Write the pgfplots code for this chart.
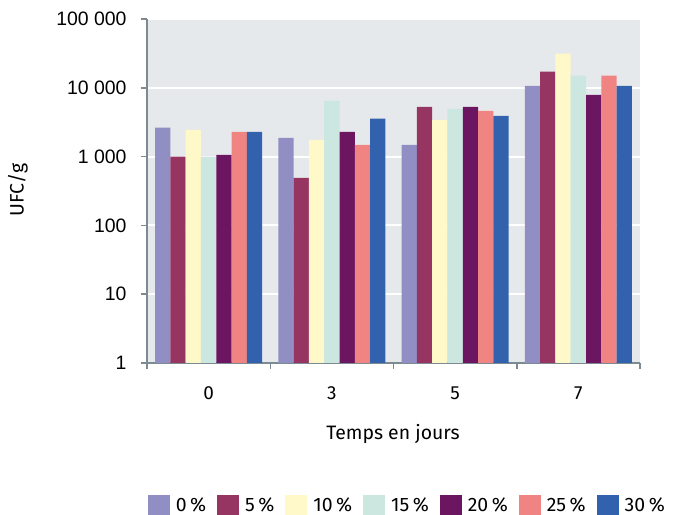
\documentclass[border=0pt]{standalone}
\usepackage{pgfplots}
\usepackage{pgfplotstable}
\pgfplotsset{compat=1.18}
\usepackage{fontspec}
\setmainfont{Fira Sans}
\newfontfamily\tickfont{Liberation Sans}
\definecolor{c0}{RGB}{145,142,196}
\definecolor{c5}{RGB}{150,52,98}
\definecolor{c10}{RGB}{255,248,200}
\definecolor{c15}{RGB}{204,230,224}
\definecolor{c20}{RGB}{108,22,98}
\definecolor{c25}{RGB}{240,132,130}
\definecolor{c30}{RGB}{50,98,173}
\definecolor{bg}{RGB}{230,233,236}
\definecolor{axgray}{RGB}{125,138,145}
\pgfplotstableread{
x c0 c5 c10 c15 c20 c25 c30
0 2630 1000 2450 1000 1060 2290 2290
1 1875 490 1750 6470 2290 1480 3550
2 1480 5300 3430 4950 5300 4630 3920
3 10700 17200 31300 15000 7900 15000 10700
}\datatable
\pgfplotsset{sq/.style={legend image code/.code={\fill[##1] (0bp,-10bp) rectangle (22bp,10bp);}},
 bb/.style={ybar, bar width=0.124, draw=none, sq}}
\newcommand{\pc}{\hspace{3.5bp}\%}
\begin{document}
\begin{tikzpicture}
\path[use as bounding box] (0,0) rectangle (673bp,515bp);
\begin{axis}[
  at={(147bp,152bp)}, anchor=south west,
  scale only axis, width=493bp, height=344bp,
  ymode=log, ymin=1, ymax=100000, xmin=-0.5, xmax=3.5,
  axis background/.style={fill=bg},
  axis x line*=bottom, axis y line*=left,
  axis line style={axgray, line width=1.5bp},
  ytick={1,10,100,1000,10000,100000},
  yticklabels={1,10,100,1 000,10 000,100 000},
  yminorticks=false,
  xtick={0,1,2,3}, xticklabels={0,3,5,7},
  minor xtick={-0.5,0.5,1.5,2.5,3.5},
  tick align=outside,
  major tick length=6bp, minor tick length=6bp,
  major x tick style={draw=none},
  tick style={axgray, line width=1.5bp},
  minor tick style={axgray, line width=1.5bp},
  ymajorgrids, grid style={white, line width=2bp},
  yticklabel style={font=\tickfont\fontsize{19.5}{23}\selectfont, anchor=east, xshift=-11bp},
  xticklabel style={font=\fontsize{19}{23}\selectfont, anchor=center, yshift=-24bp},
  xlabel={Temps en jours}, ylabel={UFC/g},
  label style={font=\fontsize{19.5}{23}\selectfont},
  xlabel style={at={(axis description cs:0.499,-0.206)}, anchor=center},
  ylabel style={at={(axis description cs:-0.262,0.503)}, anchor=center},
  legend style={at={(0.528,-0.413)}, anchor=center, legend columns=7, draw=none, fill=none,
    font=\fontsize{19.5}{23}\selectfont,
    /tikz/every odd column/.append style={column sep=4bp},
    /tikz/every even column/.append style={column sep=9bp}},
]
\addplot[bb, bar shift=-0.372, fill=c0] table[x=x,y=c0] {\datatable};
\addplot[bb, bar shift=-0.248, fill=c5] table[x=x,y=c5] {\datatable};
\addplot[bb, bar shift=-0.124, fill=c10] table[x=x,y=c10] {\datatable};
\addplot[bb, bar shift=0, fill=c15] table[x=x,y=c15] {\datatable};
\addplot[bb, bar shift=0.124, fill=c20] table[x=x,y=c20] {\datatable};
\addplot[bb, bar shift=0.248, fill=c25] table[x=x,y=c25] {\datatable};
\addplot[bb, bar shift=0.372, fill=c30] table[x=x,y=c30] {\datatable};
\legend{0\pc,5\pc,10\pc,15\pc,20\pc,25\pc,30\pc}
\end{axis}
\end{tikzpicture}
\end{document}
